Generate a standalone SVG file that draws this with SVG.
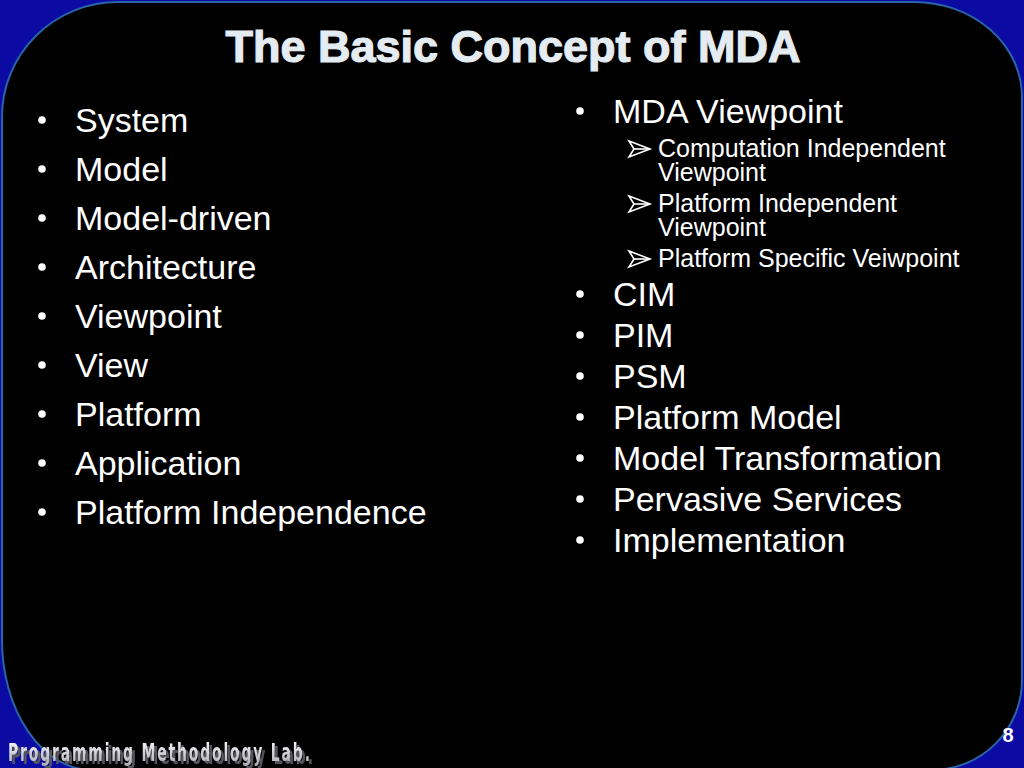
<svg xmlns="http://www.w3.org/2000/svg" width="1024" height="768" viewBox="0 0 1024 768">
  <defs>
    <style>
      .t { font-family: "Liberation Sans", Arial, Helvetica, sans-serif; fill: #ffffff; }
      .main { font-size: 34px; }
      .sub { font-size: 25px; }
      .title { font-size: 45px; font-weight: bold; fill: #e4ebf1; stroke: #e4ebf1; stroke-width: 1.2; }
      .foot { font-family: "DejaVu Sans Condensed", "DejaVu Sans", sans-serif; font-weight: bold; font-size: 25px; }
      .arrow { fill: none; stroke: #ffffff; stroke-width: 1.6; stroke-linejoin: miter; }
    </style>
    <linearGradient id="footGrad" x1="0" y1="0" x2="0" y2="1">
      <stop offset="0" stop-color="#ffffff"/>
      <stop offset="1" stop-color="#a8a8b0"/>
    </linearGradient>
    <filter id="shadow" x="-5%" y="-30%" width="115%" height="170%">
      <feOffset in="SourceAlpha" dx="2.5" dy="2.5" result="off"/>
      <feFlood flood-color="#55555f"/>
      <feComposite in2="off" operator="in" result="sh"/>
      <feMerge><feMergeNode in="sh"/><feMergeNode in="SourceGraphic"/></feMerge>
    </filter>
    <circle id="dot" r="3.8" fill="#ffffff"/>
    <g id="arr">
      <polygon class="arrow" points="0,-8 21,0 0,8 5,0"/>
      <line class="arrow" x1="5" y1="0" x2="21" y2="0"/>
    </g>
  </defs>

  <rect x="0" y="0" width="1024" height="768" fill="#0b0ba3"/>
  <path d="M 118,2 H 914 A 108,95 0 0 1 1022,97 V 680 A 90,90 0 0 1 932,770 H 92 A 90,130 0 0 1 2,640 V 117 A 116,115 0 0 1 118,2 Z" fill="#000000" stroke="#2a64a8" stroke-width="2"/>

  <g id="title">
    <text class="t title" x="513" y="62" text-anchor="middle">The Basic Concept of MDA</text>
  </g>

  <g id="left-list">
    <use href="#dot" x="42" y="120"/><text class="t main" x="75" y="132">System</text>
    <use href="#dot" x="42" y="169"/><text class="t main" x="75" y="181">Model</text>
    <use href="#dot" x="42" y="218"/><text class="t main" x="75" y="230">Model-driven</text>
    <use href="#dot" x="42" y="267"/><text class="t main" x="75" y="279">Architecture</text>
    <use href="#dot" x="42" y="316"/><text class="t main" x="75" y="328">Viewpoint</text>
    <use href="#dot" x="42" y="365"/><text class="t main" x="75" y="377">View</text>
    <use href="#dot" x="42" y="414"/><text class="t main" x="75" y="426">Platform</text>
    <use href="#dot" x="42" y="463"/><text class="t main" x="75" y="475">Application</text>
    <use href="#dot" x="42" y="512"/><text class="t main" x="75" y="524">Platform Independence</text>
  </g>

  <g id="right-list">
    <use href="#dot" x="580" y="111"/><text class="t main" x="613" y="123">MDA Viewpoint</text>
    <use href="#arr" x="629" y="149"/>
    <text class="t sub" x="658" y="157">Computation Independent<tspan x="658" dy="24">Viewpoint</tspan></text>
    <use href="#arr" x="629" y="204"/>
    <text class="t sub" x="658" y="212">Platform Independent<tspan x="658" dy="24">Viewpoint</tspan></text>
    <use href="#arr" x="629" y="259"/>
    <text class="t sub" x="658" y="267">Platform Specific Veiwpoint</text>
    <use href="#dot" x="580" y="294"/><text class="t main" x="613" y="306">CIM</text>
    <use href="#dot" x="580" y="335"/><text class="t main" x="613" y="347">PIM</text>
    <use href="#dot" x="580" y="376"/><text class="t main" x="613" y="388">PSM</text>
    <use href="#dot" x="580" y="417"/><text class="t main" x="613" y="429">Platform Model</text>
    <use href="#dot" x="580" y="458"/><text class="t main" x="613" y="470">Model Transformation</text>
    <use href="#dot" x="580" y="499"/><text class="t main" x="613" y="511">Pervasive Services</text>
    <use href="#dot" x="580" y="540"/><text class="t main" x="613" y="552">Implementation</text>
  </g>

  <g id="footer" filter="url(#shadow)">
    <text class="foot" transform="translate(8,761) scale(0.62,1)" x="0" y="0" fill="url(#footGrad)" textLength="487" lengthAdjust="spacing">Programming Methodology Lab.</text>
  </g>

  <g id="page-number">
    <text class="t" x="1008" y="742" text-anchor="middle" font-size="20" font-weight="bold">8</text>
  </g>
</svg>
